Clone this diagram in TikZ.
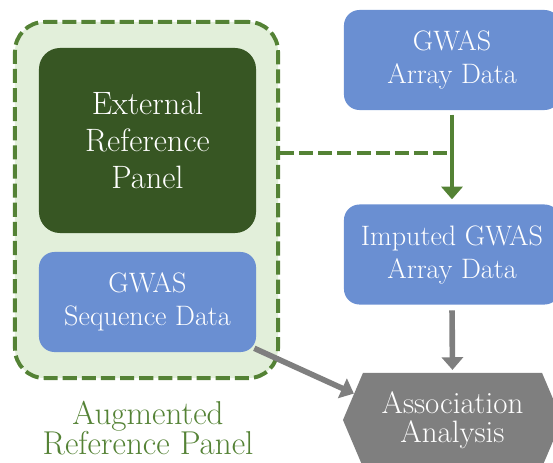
\documentclass[tikz,border=0pt]{standalone}
\usepackage{tikz}
\usetikzlibrary{arrows.meta,shapes.symbols}

\definecolor{panelgreen}{HTML}{375623}
\definecolor{dashgreen}{HTML}{548235}
\definecolor{lightgreen}{HTML}{E2EFDA}
\definecolor{datablue}{HTML}{6A8FD2}
\definecolor{stepgray}{HTML}{7F7F7F}

\begin{document}
\begin{tikzpicture}[x=0.025cm,y=-0.025cm,>={Triangle[width=15pt,length=9pt]}]
\tikzstyle{every node}=[text=white,align=center,inner sep=0pt,font=\fontsize{20}{23.5}\selectfont];
\tikzstyle{databox}=[rectangle,rounded corners=11pt,fill=datablue,minimum width=5.4cm,minimum height=2.5cm];
\tikzstyle{dashline}=[draw=dashgreen,line width=2.8pt,dash pattern=on 10pt off 3.6pt];
\useasboundingbox (0,0) rectangle (553,462);
\clip (0,0) rectangle (553,462);
% augmented panel
%   nodes
    \node[dashline,fill=lightgreen,rectangle,rounded corners=21pt,
          minimum width=6.575cm,minimum height=8.9cm] (aug) at (146.5,200) {};
    \node[fill=panelgreen,rectangle,rounded corners=15pt,minimum width=5.425cm,
          minimum height=4.625cm,font=\fontsize{23}{26.2}\selectfont] (ext) at (147.5,140.5)
          {External\\Reference\\Panel};
    \node[databox,minimum width=5.425cm] (seq) at (147.5,302) {GWAS\\Sequence Data};
    \node[text=dashgreen,font=\fontsize{23.5}{21.5}\selectfont] (auglabel) at (148,428)
          {Augmented\\Reference Panel};
% imputation side
%   nodes
    \node[databox] (arr) at (452,60) {GWAS\\Array Data};
    \node[databox] (imp) at (452,254.5) {Imputed GWAS\\Array Data};
    \node[signal,signal to=west and east,signal pointer angle=134,fill=stepgray,
          minimum width=5.475cm,minimum height=2.35cm,font=\fontsize{22}{21}\selectfont]
          (assoc) at (452.5,420) {Association\\Analysis};
    \coordinate (join) at (452,153);
%   edges
    \draw[dashline] (aug.east |- join) -- (join);
    \draw[->,draw=dashgreen,fill=dashgreen,line width=3.5pt,shorten <=3pt,shorten >=3.5pt]
        (arr.south) -- (imp.north);
    \draw[->,draw=stepgray,fill=stepgray,line width=4pt,shorten <=4pt,shorten >=2pt]
        (imp.south) -- (assoc.north);
    \draw[->,draw=stepgray,fill=stepgray,line width=4pt]
        ([shift={(-2,-4)}]seq.south east) -- (assoc.165);
\end{tikzpicture}
\end{document}
